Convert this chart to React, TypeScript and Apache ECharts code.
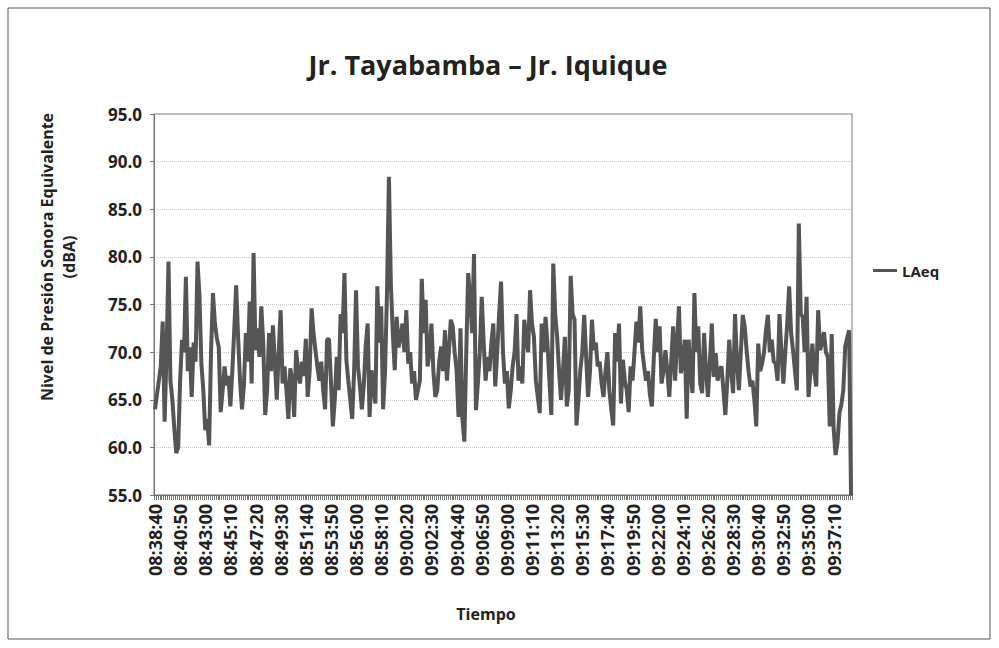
import React, { useEffect, useRef } from "react";
import * as echarts from "echarts";

const TITLE = "Jr. Tayabamba – Jr. Iquique";
const Y_NAME = "Nivel de Presión Sonora Equivalente\n(dBA)";
const X_NAME = "Tiempo";
const SERIES_NAME = "LAeq";
const START_TIME = "08:38:40";
const STEP_SECONDS = 10;
const Y_MIN = 55;
const Y_MAX = 95;
const Y_STEP = 5;

const laeq: number[] = [
  64, 65.5, 67, 68.5, 73.2, 62.7, 70, 79.5, 67, 65,
  62, 59.4, 60, 67, 71.3, 70, 77.9, 68, 70.5, 65.3,
  71, 69, 79.5, 76, 68.8, 66, 61.8, 63, 60.2, 70,
  76.2, 73, 71.5, 70.5, 63.7, 66, 68.5, 66.5, 67.5, 64.3,
  68, 72.3, 77, 71.6, 67, 64, 66.5, 72, 69, 75.3,
  66.7, 80.4, 70.2, 72.5, 69.5, 74.8, 71, 63.4, 66, 72,
  68, 72.8, 69, 65, 70, 74.4, 66.7, 68.5, 66, 63,
  68.3, 67, 63.2, 70.2, 68, 66.7, 69, 67.5, 71.4, 65.3,
  68, 74.6, 72, 70.2, 68.5, 67, 69, 66, 64, 71.3,
  71.4, 67, 62.2, 65, 69.5, 66, 74, 72, 78.3, 69.2,
  67, 65, 63, 68, 76.5, 68.5, 66.5, 64, 66.5, 70.7,
  73, 63.2, 68.1, 66, 64.6, 76.9, 71, 74.8, 64, 68,
  76.2, 88.4, 77.2, 72, 68.1, 73.7, 70.5, 71.6, 73, 70,
  74.4, 68.8, 70, 66.7, 68, 65, 66, 67, 77.7, 72,
  75.5, 68.5, 70, 73, 68, 65.3, 66, 69, 70.6, 68,
  72.3, 67, 70, 73.4, 72.7, 70, 68.1, 63.2, 72.5, 63,
  60.6, 70, 78.3, 75.8, 72, 80.3, 63.9, 66.7, 70, 75.8,
  71, 67, 69.5, 68, 71, 73, 66.4, 70, 74, 77.4,
  70, 66.7, 68, 64.1, 66, 68.5, 70, 74, 67, 68.5,
  66.7, 73.4, 71.6, 70, 76.5, 73, 71.6, 67, 65.3, 63.6,
  73, 70, 73.7, 70.9, 67, 63.4, 79.3, 74, 71.6, 68,
  65, 68, 71.6, 64.3, 66, 78, 74, 73.4, 62.3, 65,
  68.1, 70, 73.9, 69.5, 65.3, 68, 73.4, 70.2, 71, 68.5,
  69, 66.7, 65.3, 68, 70, 66, 64, 62.3, 72, 69,
  73, 64.6, 69.2, 67, 66, 63.7, 68.5, 67, 70, 73.2,
  71, 74.8, 70.2, 68.5, 67, 68, 65.5, 64.3, 69.5, 73.5,
  70, 72.7, 66.7, 68, 70.2, 68, 65.3, 69, 72.7, 67,
  71, 74.8, 67.8, 69, 71.3, 63, 71.3, 68, 65.7, 76.2,
  70, 72.7, 66.7, 65.7, 72, 68, 65.3, 69, 73, 67.4,
  69.9, 67, 68.1, 68.5, 66, 63.4, 67, 71.3, 68, 65.7,
  74, 69, 66, 70, 73.9, 72.7, 70.2, 68, 66.4, 67,
  65, 62.2, 70.9, 68, 68.8, 70, 72.3, 73.9, 70, 71.3,
  69, 68.8, 67, 74, 70, 66.7, 70, 73, 76.9, 72,
  70.2, 68, 66, 83.5, 74, 73.7, 70, 75.8, 65.3, 68,
  70.9, 68, 66.4, 74.4, 70.2, 71, 72.1, 70, 69.5, 62.2,
  71.9, 62, 59.2, 60.5, 63.6, 64.5, 66, 70.6, 71.5, 72.3,
  55,
];

function buildTimes(start: string, step: number, count: number): string[] {
  const [h, m, s] = start.split(":").map(Number);
  const base = h * 3600 + m * 60 + s;
  const out: string[] = [];
  for (let i = 0; i < count; i++) {
    const t = base + i * step;
    const hh = Math.floor(t / 3600) % 24;
    const mm = Math.floor((t % 3600) / 60);
    const ss = t % 60;
    out.push(
      String(hh).padStart(2, "0") + ":" + String(mm).padStart(2, "0") + ":" + String(ss).padStart(2, "0")
    );
  }
  return out;
}

const times = buildTimes(START_TIME, STEP_SECONDS, laeq.length);

const FONT = "'Open Sans', 'Noto Sans', sans-serif";

export default function App() {
  const ref = useRef<HTMLDivElement>(null);
  useEffect(() => {
    if (!ref.current) return;
    const chart = echarts.init(ref.current, undefined, { renderer: "svg" });
    chart.setOption({
      animation: false,
      backgroundColor: "#ffffff",
      textStyle: { fontFamily: FONT },
      title: {
        text: TITLE,
        left: 483,
        top: 46,
        textAlign: "center",
        textStyle: { fontFamily: FONT, fontSize: 27, fontWeight: "bold", color: "#222" },
      },
      legend: {
        data: [SERIES_NAME],
        left: 868,
        top: 258,
        icon: "rect",
        itemWidth: 24,
        itemHeight: 3,
        itemGap: 4,
        textStyle: { fontFamily: FONT, fontSize: 15, fontWeight: "bold", color: "#222" },
      },
      grid: {
        left: 154,
        top: 114,
        right: 147,
        bottom: 153,
        show: true,
        borderColor: "#777",
        borderWidth: 1,
      },
      graphic: [
        {
          type: "rect",
          shape: { x: 8, y: 8, width: 982, height: 631 },
          style: { fill: "none", stroke: "#555", lineWidth: 1 },
          silent: true,
        },
        {
          type: "text",
          x: 58,
          y: 257,
          rotation: Math.PI / 2,
          style: {
            text: Y_NAME,
            fontFamily: FONT,
            fontSize: 16,
            fontWeight: "bold",
            fill: "#222",
            align: "center",
            verticalAlign: "middle",
            lineHeight: 22,
          },
        },
        {
          type: "text",
          x: 486,
          y: 614,
          style: {
            text: X_NAME,
            fontFamily: FONT,
            fontSize: 16,
            fontWeight: "bold",
            fill: "#222",
            align: "center",
            verticalAlign: "middle",
          },
        },
      ],
      xAxis: {
        type: "category",
        data: times,
        boundaryGap: true,
        axisLine: { show: true, lineStyle: { color: "#666", width: 1 } },
        axisTick: { show: true, interval: 0, length: 5, lineStyle: { color: "#777", width: 1 } },
        axisLabel: {
          interval: 12,
          rotate: 90,
          margin: 9,
          padding: [18, 0, 0, 0],
          fontFamily: FONT,
          fontSize: 18,
          fontWeight: "bold",
          color: "#222",
        },
        splitLine: { show: false },
      },
      yAxis: {
        type: "value",
        min: Y_MIN,
        max: Y_MAX,
        interval: Y_STEP,
        axisLine: { show: true, lineStyle: { color: "#777" } },
        axisTick: { show: true, length: 4, lineStyle: { color: "#777" } },
        axisLabel: {
          formatter: (v: number) => v.toFixed(1),
          fontFamily: FONT,
          fontSize: 17,
          fontWeight: "bold",
          color: "#222",
          margin: 12,
        },
        splitLine: { show: true, lineStyle: { color: "#c8c8c8", type: "dotted", width: 1 } },
      },
      series: [
        {
          name: SERIES_NAME,
          type: "line",
          data: laeq,
          showSymbol: false,
          symbol: "none",
          lineStyle: { color: "#555555", width: 4 },
          itemStyle: { color: "#555555" },
        },
      ],
    });
    return () => chart.dispose();
  }, []);
  return (
    <div
      ref={ref}
      style={{ position: "fixed", left: 0, top: 0, width: 999, height: 648, background: "#fff" }}
    />
  );
}
